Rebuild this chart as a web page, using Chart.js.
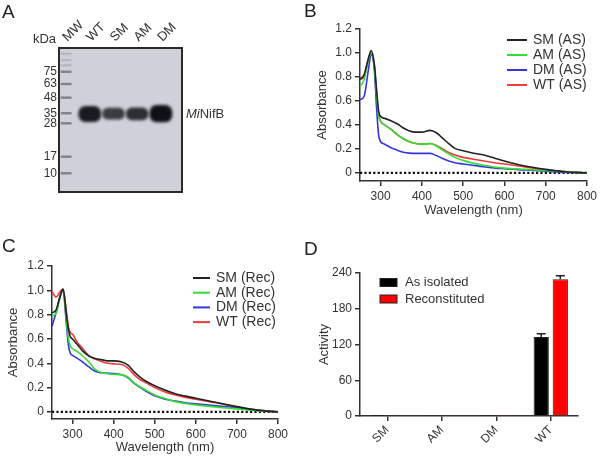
<!DOCTYPE html>
<html>
<head>
<meta charset="utf-8">
<script src="https://cdn.jsdelivr.net/npm/chart.js@4.4.1/dist/chart.umd.min.js"></script>
<style>
    html, body { margin: 0; padding: 0; background: #fff; }
    body { width: 600px; height: 456px; position: relative; overflow: hidden; font-family: 'Liberation Sans', Arial, sans-serif; }
    canvas { position: absolute; }
    .tag { position: absolute; z-index: 2; font-size: 19px; line-height: 19px; color: #222; }
</style>
</head>
<body>
<canvas id="gel-chart" style="left:0;top:0" width="300" height="215"></canvas>
<canvas id="as-chart" style="left:300px;top:0" width="300" height="228"></canvas>
<canvas id="rec-chart" style="left:0;top:220px" width="300" height="236"></canvas>
<canvas id="activity-chart" style="left:300px;top:220px" width="300" height="236"></canvas>
<div class="tag" style="left:2px;top:2px">A</div>
<div class="tag" style="left:304px;top:1px">B</div>
<div class="tag" style="left:2px;top:236px">C</div>
<div class="tag" style="left:304px;top:239px">D</div>
<script>
// gel (panel A)
const lanes = ['MW', 'WT', 'SM', 'AM', 'DM'];
const laneNo = [1, 2, 3, 4, 5];
const markerKDa = [75, 63, 48, 35, 28, 17, 10];
const markerRf = [0.165, 0.25, 0.345, 0.453, 0.523, 0.755, 0.87];
const faintMarkerRf = [0.04, 0.085, 0.12];
const bandTop = [0.405, 0.418, 0.416, 0.398];
const bandBottom = [0.512, 0.495, 0.5, 0.514];
const bandDensity = [0.95, 0.78, 0.85, 1.0];

// spectra (panels B and C)
const wavelength = [250, 260, 270, 277, 285, 290, 295, 300, 310, 325, 340, 355, 370, 385, 400,
    420, 435, 450, 465, 480, 500, 525, 550, 575, 600, 650, 700, 750, 800];
const wavelengthTicks = [300, 400, 500, 600, 700, 800];
const absorbanceTicks = [0, 0.2, 0.4, 0.6, 0.8, 1.0, 1.2];
const baselineX = [250, 800];
const baselineY = [0, 0];

const smAS = [0.78, 0.82, 0.95, 1.02, 0.90, 0.70, 0.52, 0.47, 0.455, 0.435, 0.41, 0.375, 0.35, 0.34, 0.34,
    0.355, 0.335, 0.29, 0.245, 0.205, 0.185, 0.165, 0.15, 0.125, 0.10, 0.058, 0.03, 0.01, 0];
const amAS = [0.72, 0.78, 0.94, 1.0, 0.88, 0.66, 0.48, 0.43, 0.40, 0.365, 0.32, 0.285, 0.26, 0.245, 0.24,
    0.245, 0.225, 0.19, 0.16, 0.13, 0.105, 0.08, 0.065, 0.05, 0.04, 0.03, 0.02, 0.01, 0];
const dmAS = [0.61, 0.64, 0.85, 0.99, 0.85, 0.55, 0.32, 0.26, 0.24, 0.21, 0.19, 0.172, 0.165, 0.163, 0.163,
    0.163, 0.145, 0.12, 0.10, 0.085, 0.075, 0.062, 0.052, 0.042, 0.035, 0.025, 0.015, 0.005, 0];
const wtAS = [0.78, 0.80, 0.94, 1.0, 0.88, 0.66, 0.49, 0.43, 0.40, 0.365, 0.32, 0.285, 0.26, 0.245, 0.24,
    0.245, 0.23, 0.20, 0.17, 0.15, 0.13, 0.115, 0.10, 0.085, 0.075, 0.05, 0.025, 0.01, 0];

const smRec = [0.815, 0.84, 0.95, 1.01, 0.80, 0.68, 0.615, 0.60, 0.56, 0.50, 0.46, 0.44, 0.43, 0.42, 0.42,
    0.41, 0.385, 0.33, 0.285, 0.25, 0.215, 0.18, 0.15, 0.13, 0.113, 0.077, 0.044, 0.015, 0];
const amRec = [0.79, 0.81, 0.95, 1.0, 0.75, 0.60, 0.54, 0.52, 0.50, 0.46, 0.41, 0.35, 0.325, 0.314, 0.31,
    0.305, 0.285, 0.24, 0.205, 0.176, 0.14, 0.11, 0.085, 0.07, 0.058, 0.04, 0.025, 0.01, 0];
const dmRec = [0.705, 0.82, 0.96, 1.0, 0.72, 0.55, 0.48, 0.465, 0.445, 0.41, 0.37, 0.335, 0.322, 0.318, 0.315,
    0.305, 0.28, 0.235, 0.20, 0.168, 0.133, 0.105, 0.09, 0.075, 0.066, 0.05, 0.035, 0.012, 0];
const wtRec = [0.99, 0.945, 0.99, 1.01, 0.83, 0.70, 0.65, 0.64, 0.58, 0.52, 0.46, 0.435, 0.415, 0.40, 0.395,
    0.39, 0.36, 0.305, 0.265, 0.237, 0.20, 0.165, 0.14, 0.12, 0.105, 0.075, 0.04, 0.015, 0];

// activity (panel D)
const variants = ['SM', 'AM', 'DM', 'WT'];
const activityAS = [0.2, 1.0, 0.3, 132.5];
const activityASErr = [0, 0, 0, 5.5];
const activityRec = [0.3, 1.2, 0.4, 229.5];
const activityRecErr = [0, 0, 0, 6];

const FONT = "'Liberation Sans', Arial, sans-serif";
const AXIS = '#333';
const LINE_COLORS = ['#222222', '#33dd33', '#3535dd', '#f03a3a'];

Chart.defaults.font.family = FONT;
Chart.defaults.color = '#333';
Chart.defaults.animation = false;

const fixSize = function (size) {
    return function (scale) {
        if (scale.isHorizontal()) {
            scale.height = size;
        } else {
            scale.width = size;
        }
    };
};

const axisGrid = {drawOnChartArea: false, drawTicks: true, tickLength: 5, color: AXIS, lineWidth: 1.5};
const axisBorder = {display: true, color: AXIS, width: 1.5};

// legend drawn at a fixed spot inside the plot, GraphPad style
const panelLegend = {
    id: 'panelLegend',
    afterDraw(chart, args, opts) {
        const ctx = chart.ctx;
        ctx.save();
        ctx.font = opts.fontSize + 'px ' + FONT;
        ctx.textBaseline = 'middle';
        ctx.textAlign = 'left';
        let y = opts.y;
        chart.data.datasets.forEach(function (ds) {
            if (!ds.label) {
                return;
            }
            if (opts.box) {
                ctx.fillStyle = ds.backgroundColor;
                ctx.fillRect(opts.x, y - opts.boxHeight / 2, opts.sampleWidth, opts.boxHeight);
                ctx.strokeStyle = '#222';
                ctx.lineWidth = 1;
                ctx.strokeRect(opts.x, y - opts.boxHeight / 2, opts.sampleWidth, opts.boxHeight);
            } else {
                ctx.strokeStyle = ds.borderColor;
                ctx.lineWidth = 2;
                ctx.beginPath();
                ctx.moveTo(opts.x, y);
                ctx.lineTo(opts.x + opts.sampleWidth, y);
                ctx.stroke();
            }
            ctx.fillStyle = '#333';
            ctx.fillText(ds.label, opts.x + opts.sampleWidth + opts.gap, y);
            y += opts.rowGap;
        });
        ctx.restore();
    }
};

const errorBars = {
    id: 'errorBars',
    afterDatasetsDraw(chart) {
        const ctx = chart.ctx;
        const yScale = chart.scales.y;
        ctx.save();
        ctx.strokeStyle = '#222';
        ctx.lineWidth = 1.5;
        chart.data.datasets.forEach(function (ds, i) {
            chart.getDatasetMeta(i).data.forEach(function (bar, j) {
                const err = ds.errors[j];
                if (!err) {
                    return;
                }
                const top = yScale.getPixelForValue(ds.data[j] + err);
                ctx.beginPath();
                ctx.moveTo(bar.x, bar.y);
                ctx.lineTo(bar.x, top);
                ctx.moveTo(bar.x - 4.5, top);
                ctx.lineTo(bar.x + 4.5, top);
                ctx.stroke();
            });
        });
        ctx.restore();
    }
};

const bandBlur = {
    id: 'bandBlur',
    beforeDatasetDraw(chart, args) {
        const blur = chart.data.datasets[args.index].blur;
        if (blur) {
            chart.ctx.save();
            chart.ctx.filter = 'blur(' + blur + 'px)';
        }
    },
    afterDatasetDraw(chart, args) {
        if (chart.data.datasets[args.index].blur) {
            chart.ctx.restore();
        }
    }
};

const gelFrame = {
    id: 'gelFrame',
    beforeDatasetsDraw(chart) {
        const {ctx, chartArea: a} = chart;
        ctx.save();
        ctx.fillStyle = '#d0d0d8';
        ctx.fillRect(a.left, a.top, a.right - a.left, a.bottom - a.top);
        ctx.restore();
    },
    afterDraw(chart) {
        const {ctx, chartArea: a} = chart;
        ctx.save();
        ctx.strokeStyle = '#2a2a2a';
        ctx.lineWidth = 2;
        ctx.strokeRect(a.left, a.top, a.right - a.left, a.bottom - a.top);
        ctx.fillStyle = '#333';
        ctx.font = '13px ' + FONT;
        ctx.textBaseline = 'middle';
        ctx.textAlign = 'right';
        ctx.fillText('kDa', a.left - 3, a.top - 9);
        const bandY = chart.scales.y.getPixelForValue((bandTop[0] + bandBottom[0]) / 2);
        ctx.textAlign = 'left';
        ctx.font = 'italic 13px ' + FONT;
        const x0 = a.right + 4;
        ctx.fillText('Mi', x0, bandY);
        const w = ctx.measureText('Mi').width;
        ctx.font = '13px ' + FONT;
        ctx.fillText('NifB', x0 + w, bandY);
        ctx.restore();
    }
};

new Chart(document.getElementById('gel-chart'), {
    type: 'bar',
    data: {
        datasets: [
            {
                label: 'bands',
                data: laneNo.slice(1).map((x, i) => ({x: x, y: [bandTop[i], bandBottom[i]]})),
                backgroundColor: bandDensity.map(d => 'rgba(16,16,22,' + d + ')'),
                barThickness: 22,
                borderRadius: 7,
                borderSkipped: false,
                grouped: false,
                blur: 1.8
            },
            {
                label: 'marker',
                data: markerRf.map(rf => ({x: laneNo[0], y: [rf - 0.006, rf + 0.006]})),
                backgroundColor: 'rgba(95,95,108,0.7)',
                barThickness: 10,
                grouped: false,
                blur: 0.7
            },
            {
                label: 'marker-faint',
                data: faintMarkerRf.map(rf => ({x: laneNo[0], y: [rf - 0.005, rf + 0.005]})),
                backgroundColor: 'rgba(120,120,132,0.3)',
                barThickness: 10,
                grouped: false,
                blur: 0.7
            }
        ]
    },
    options: {
        responsive: false,
        layout: {padding: {left: 0, top: 0, right: 118, bottom: 23}},
        scales: {
            x: {
                type: 'linear',
                position: 'top',
                offset: false,
                min: 0.70,
                max: 5.89,
                afterBuildTicks: scale => { scale.ticks = laneNo.map(v => ({value: v})); },
                afterFit: fixSize(48),
                grid: {display: false, drawTicks: false, offset: false},
                border: {display: false},
                ticks: {
                    callback: (v, i) => lanes[i],
                    autoSkip: false,
                    minRotation: 45,
                    maxRotation: 45,
                    labelOffset: 10,
                    padding: 3,
                    font: {size: 13}
                }
            },
            y: {
                min: 0,
                max: 1,
                reverse: true,
                afterBuildTicks: scale => { scale.ticks = markerRf.map(v => ({value: v})); },
                afterFit: fixSize(59),
                grid: {display: false, drawTicks: false},
                border: {display: false},
                ticks: {
                    callback: (v, i) => String(markerKDa[i]),
                    autoSkip: false,
                    padding: 2,
                    font: {size: 12}
                }
            }
        },
        plugins: {legend: {display: false}, tooltip: {enabled: false}}
    },
    plugins: [gelFrame, bandBlur]
});

const spectrumChart = function (canvasId, series, names, box) {
    const datasets = series.map((values, i) => ({
        label: names[i],
        data: wavelength.map((x, j) => ({x: x, y: values[j]})),
        borderColor: LINE_COLORS[i],
        borderWidth: 1.6,
        pointRadius: 0,
        cubicInterpolationMode: 'monotone'
    }));
    datasets.push({
        label: '',
        data: baselineX.map((x, j) => ({x: x, y: baselineY[j]})),
        borderColor: '#111',
        borderWidth: 2.2,
        borderDash: [2.2, 2.2],
        pointRadius: 0
    });

    return new Chart(document.getElementById(canvasId), {
        type: 'line',
        data: {datasets: datasets},
        options: {
            responsive: false,
            layout: {padding: {left: 0, top: box.top, right: box.right, bottom: box.bottom}},
            scales: {
                x: {
                    type: 'linear',
                    min: 250,
                    max: 800,
                    afterBuildTicks: scale => { scale.ticks = wavelengthTicks.map(v => ({value: v})); },
                    afterFit: fixSize(box.xHeight),
                    grid: axisGrid,
                    border: axisBorder,
                    ticks: {padding: 3, maxRotation: 0, font: {size: 12}},
                    title: {display: true, text: 'Wavelength (nm)', font: {size: 13}, padding: {top: 0, bottom: box.xTitlePad}}
                },
                y: {
                    min: box.yMin,
                    max: 1.2,
                    afterBuildTicks: scale => { scale.ticks = absorbanceTicks.map(v => ({value: v})); },
                    afterFit: fixSize(box.yWidth),
                    grid: axisGrid,
                    border: axisBorder,
                    ticks: {padding: 3, font: {size: 12}, callback: v => v === 0 ? '0' : v.toFixed(1)},
                    title: {display: true, text: 'Absorbance', font: {size: 13}, padding: {top: box.yTitlePad, bottom: 0}}
                }
            },
            plugins: {
                legend: {display: false},
                tooltip: {enabled: false},
                panelLegend: box.legend
            }
        },
        plugins: [panelLegend]
    });
};

spectrumChart('as-chart', [smAS, amAS, dmAS, wtAS], ['SM (AS)', 'AM (AS)', 'DM (AS)', 'WT (AS)'], {
    top: 29, right: 12, bottom: 7, xHeight: 40, yWidth: 60, yMin: -0.067,
    xTitlePad: 3, yTitlePad: 15,
    legend: {x: 207, y: 40, rowGap: 15, sampleWidth: 20, gap: 6, fontSize: 14}
});

spectrumChart('rec-chart', [smRec, amRec, dmRec, wtRec], ['SM (Rec)', 'AM (Rec)', 'DM (Rec)', 'WT (Rec)'], {
    top: 46, right: 22, bottom: 1, xHeight: 36, yWidth: 52, yMin: -0.058,
    xTitlePad: 0, yTitlePad: 6,
    legend: {x: 193, y: 58, rowGap: 14.7, sampleWidth: 17, gap: 6, fontSize: 14}
});

new Chart(document.getElementById('activity-chart'), {
    type: 'bar',
    data: {
        labels: variants,
        datasets: [
            {label: 'As isolated', data: activityAS, errors: activityASErr, backgroundColor: '#000000', borderColor: '#222', borderWidth: 1},
            {label: 'Reconstituted', data: activityRec, errors: activityRecErr, backgroundColor: '#ff0000', borderColor: '#222', borderWidth: 1}
        ]
    },
    options: {
        responsive: false,
        layout: {padding: {left: 0, top: 53, right: 22, bottom: 4}},
        datasets: {bar: {categoryPercentage: 0.7, barPercentage: 0.8}},
        scales: {
            x: {
                afterFit: fixSize(36),
                grid: Object.assign({}, axisGrid, {offset: false}),
                border: axisBorder,
                ticks: {minRotation: 45, maxRotation: 45, padding: 2, font: {size: 12}}
            },
            y: {
                min: 0,
                max: 240,
                afterFit: fixSize(60),
                grid: axisGrid,
                border: axisBorder,
                ticks: {stepSize: 60, padding: 3, font: {size: 12}},
                title: {display: true, text: 'Activity', font: {size: 13}, padding: {top: 17, bottom: 0}}
            }
        },
        plugins: {
            legend: {display: false},
            tooltip: {enabled: false},
            panelLegend: {x: 80, y: 62.5, rowGap: 16.5, sampleWidth: 17, boxHeight: 8, box: true, gap: 8, fontSize: 13}
        }
    },
    plugins: [panelLegend, errorBars]
});
</script>
</body>
</html>
